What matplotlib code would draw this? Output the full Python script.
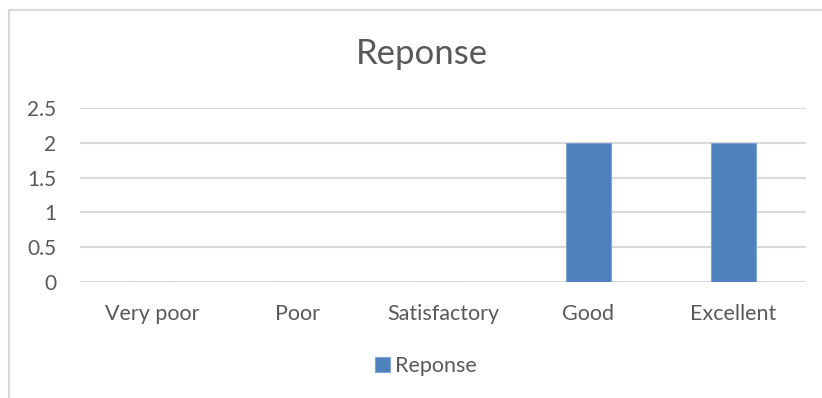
import matplotlib.pyplot as plt
from matplotlib.patches import Rectangle

# survey answers per rating
categories = ['Very poor', 'Poor', 'Satisfactory', 'Good', 'Excellent']
responses = [0, 0, 0, 2, 2]
y_ticks = [0, 0.5, 1, 1.5, 2, 2.5]
y_tick_labels = ['0', '0.5', '1', '1.5', '2', '2.5']

W, H = 822, 398
text_color = '#595959'
grid_color = '#d9d9d9'
bar_color = '#4f81bd'

plt.rcParams['font.family'] = ['Lato', 'DejaVu Sans']

fig = plt.figure(figsize=(W / 100, H / 100), dpi=100)

# chart frame (only the top and left edges are in view)
fig.patches.append(Rectangle((9 / W, -0.1), 1.2, (H - 9.5) / H + 0.1,
                             transform=fig.transFigure, fill=False,
                             edgecolor='#d9d9d9', linewidth=1.5))

ax = fig.add_axes([80 / W, (H - 282) / H, (806 - 80) / W, (282 - 108) / H])
x = range(len(categories))
ax.bar(x, responses, width=0.31, color=bar_color, edgecolor='#7ea3d4',
       linewidth=0.8, zorder=3, label='Reponse')

ax.set_xlim(-0.5, len(categories) - 0.5)
ax.set_ylim(0, 2.5)
ax.set_yticks(y_ticks)
ax.set_yticklabels(y_tick_labels)
ax.set_xticks(list(x))
ax.set_xticklabels(categories)
ax.grid(axis='y', color=grid_color, linewidth=1.5, zorder=0)
for s in ax.spines.values():
    s.set_visible(False)
ax.tick_params(axis='both', length=0, colors=text_color, labelsize=15)
ax.tick_params(axis='x', labelsize=15.5, pad=16)
ax.tick_params(axis='y', pad=17)

fig.text(422 / W, 1 - 54 / H, 'Reponse', ha='center', va='center',
         fontsize=25, color=text_color)

leg = fig.legend(loc='center', bbox_to_anchor=(426 / W, 1 - 366 / H),
                 frameon=False, fontsize=15.5, handlelength=0.7,
                 handleheight=0.7, handletextpad=0.25)
for t in leg.get_texts():
    t.set_color(text_color)

fig.savefig('out.png', dpi=100)
